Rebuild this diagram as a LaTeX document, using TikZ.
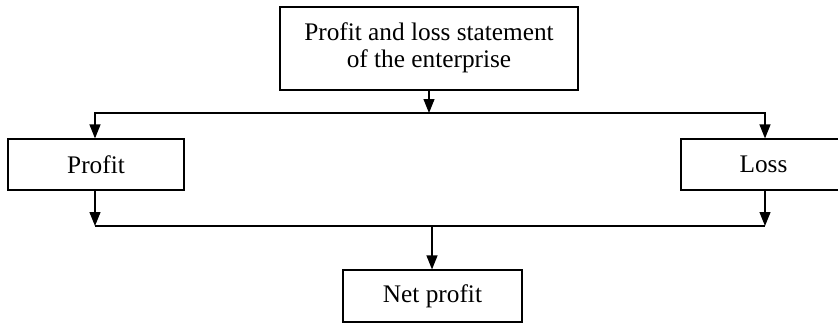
\documentclass[tikz,border=0pt]{standalone}
\usepackage{fontspec}
\setmainfont{Liberation Serif}
\usetikzlibrary{arrows.meta}
\begin{document}
\begin{tikzpicture}[x=1pt,y=-1pt,
  box/.style={draw=black,line width=1.2pt,minimum height=51pt,inner sep=0pt,
    font=\fontsize{25.3}{28.5}\selectfont,align=center,fill=white},
  conn/.style={line width=1.2pt},
  arr/.style={line width=1.2pt,-{Triangle[length=14pt,width=11pt]}}]
\useasboundingbox (0,0) rectangle (838,324);
\node[box,minimum width=298pt,minimum height=83pt] (top) at (429,48.5)
  {\raisebox{-3pt}{\begin{tabular}{@{}c@{}}Profit and loss statement\\[-1pt]of the enterprise\end{tabular}}};
\node[box,minimum width=176pt] (profit) at (96,164.5) {Profit};
\node[box,minimum width=165pt] (loss) at (763.5,164.5) {Loss};
\node[box,minimum width=179pt,minimum height=52pt] (net) at (432.5,296) {Net profit};
\coordinate (a1) at (95,113);
\coordinate (a2) at (765,113);
\coordinate (am) at (429,113);
\coordinate (b1) at (95,226);
\coordinate (b2) at (765,226);
\coordinate (bm) at (432,226);
\draw[arr] (top.south -| am) -- (am);
\draw[arr] (am) -- (a1) -- (a1 |- profit.north);
\draw[arr] (am) -- (a2) -- (a2 |- loss.north);
\draw[arr] (profit.south -| b1) -- (b1);
\draw[arr] (loss.south -| b2) -- (b2);
\draw[conn] (b1) -- (b2);
\draw[arr] (bm) -- (bm |- net.north);
\end{tikzpicture}
\end{document}
